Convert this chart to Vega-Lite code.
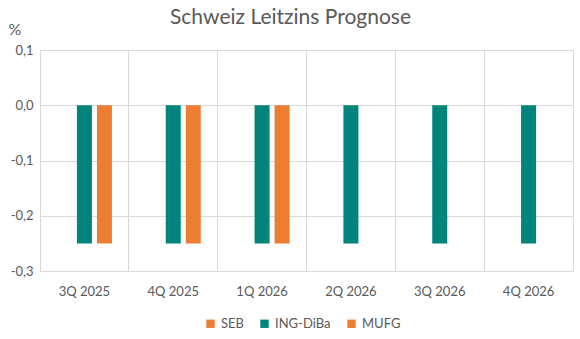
{
  "$schema": "https://vega.github.io/schema/vega-lite/v6.json",
  "autosize": "none",
  "width": 533,
  "height": 221,
  "padding": {"left": 40, "top": 50, "right": 7, "bottom": 68},
  "background": "white",
  "title": {"text": "Schweiz Leitzins Prognose", "font": "Lato", "fontSize": 21, "fontWeight": "normal", "color": "#595959", "anchor": "middle", "offset": 0, "dy": 7, "dx": -16},
  "data": {"values": [
    {"q": "3Q 2025", "s": "SEB", "v": null},
    {"q": "3Q 2025", "s": "ING-DiBa", "v": -0.25},
    {"q": "3Q 2025", "s": "MUFG", "v": -0.25},
    {"q": "4Q 2025", "s": "SEB", "v": null},
    {"q": "4Q 2025", "s": "ING-DiBa", "v": -0.25},
    {"q": "4Q 2025", "s": "MUFG", "v": -0.25},
    {"q": "1Q 2026", "s": "SEB", "v": null},
    {"q": "1Q 2026", "s": "ING-DiBa", "v": -0.25},
    {"q": "1Q 2026", "s": "MUFG", "v": -0.25},
    {"q": "2Q 2026", "s": "ING-DiBa", "v": -0.25},
    {"q": "3Q 2026", "s": "ING-DiBa", "v": -0.25},
    {"q": "4Q 2026", "s": "ING-DiBa", "v": -0.25}
  ]},
  "mark": {"type": "bar"},
  "encoding": {
    "x": {"field": "q", "type": "nominal", "sort": null,
      "scale": {"paddingInner": 0, "paddingOuter": 0},
      "axis": {"title": null, "labelAngle": 0, "labelFont": "Lato", "labelFontSize": 13, "labelColor": "#595959", "labelPadding": 14, "ticks": false, "domain": false, "grid": true, "bandPosition": 0, "gridColor": "#D9D9D9"}},
    "xOffset": {"field": "s", "type": "nominal", "scale": {"domain": ["SEB", "ING-DiBa", "MUFG"], "paddingInner": 0.25, "paddingOuter": 0.845}},
    "y": {"field": "v", "type": "quantitative",
      "scale": {"domain": [-0.3, 0.1], "nice": false},
      "axis": {"values": [-0.3, -0.2, -0.1, 0, 0.1], "labelExpr": "replace(replace(format(datum.value, '.1f'), '.', ','), '−', '-')", "labelFont": "Lato", "labelFontSize": 13, "labelColor": "#595959", "labelPadding": 7, "ticks": false, "domain": false, "gridColor": "#D9D9D9",
        "title": "%", "titleAngle": 0, "titleFont": "Lato", "titleFontSize": 16, "titleFontWeight": "normal", "titleColor": "#595959", "titleX": -32, "titleY": -21, "titleAlign": "left", "titleBaseline": "middle"}},
    "color": {"field": "s", "type": "nominal",
      "scale": {"domain": ["SEB", "ING-DiBa", "MUFG"], "range": ["#ED7D31", "#00847C", "#ED7D31"]},
      "legend": {"title": null, "orient": "none", "direction": "horizontal", "legendX": 164, "legendY": 267, "symbolType": "square", "symbolSize": 70, "labelFont": "Lato", "labelFontSize": 13, "labelColor": "#595959", "columnPadding": 14, "labelOffset": 4}}
  },
  "config": {"view": {"stroke": "#D9D9D9"}}
}
